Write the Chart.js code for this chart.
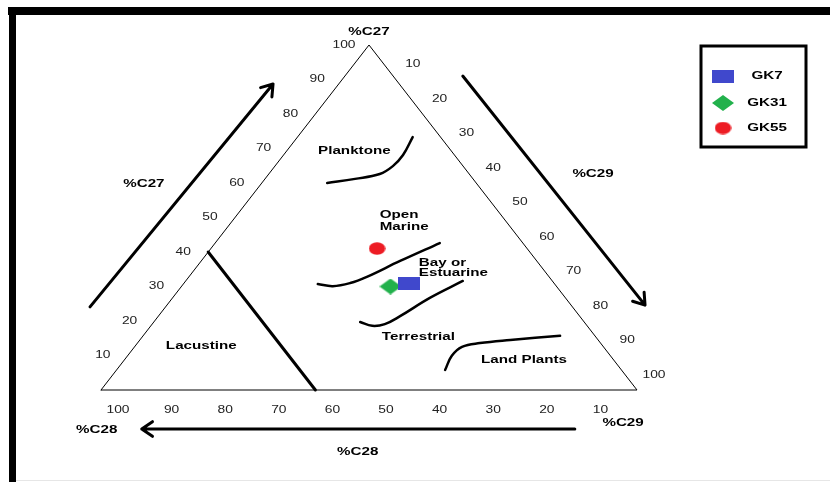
<!DOCTYPE html>
<html>
<head>
<meta charset="utf-8">
<title>Sterane C27–C28–C29 ternary diagram</title>
<script src="https://cdn.jsdelivr.net/npm/chart.js@4.4.0/dist/chart.umd.min.js"></script>
<style>
  html, body { margin: 0; padding: 0; background: #fff; }
  #wrap { width: 830px; height: 482px; }
  canvas { display: block; }
</style>
</head>
<body>
<div id="wrap"><canvas id="chart" width="830" height="482"></canvas></div>
<script>
// ---- Samples (ternary composition, % of C27 / C28 / C29 steranes) ----
const sampleNames = ['GK7', 'GK31', 'GK55'];
const sampleC27 = [31, 30, 41];
const sampleC28 = [27, 31, 28];
const sampleC29 = [42, 39, 31];

// ---- Axis tick values (same for all three sides) ----
const tickValues = [10, 20, 30, 40, 50, 60, 70, 80, 90, 100];

// ---- Environment boundaries, as [C27, C28, C29] ----
const planktoneLine = [[60.0, 27.8, 12.2], [61.2, 22.0, 16.8], [62.6, 16.7, 20.7], [64.9, 13.1, 22.0], [68.1, 9.6, 22.3], [73.3, 5.2, 21.5]];
const openMarineLine = [[30.7, 44.2, 25.1], [30.1, 41.7, 28.2], [31.0, 38.0, 31.0], [32.8, 34.0, 33.2], [37.4, 25.5, 37.1], [42.6, 15.5, 41.9]];
const bayLine = [[19.7, 41.8, 38.5], [18.6, 40.1, 41.3], [19.1, 37.5, 43.4], [21.4, 33.5, 45.1], [26.7, 25.3, 48.0], [31.6, 16.7, 51.7]];
const landPlantsLine = [[5.8, 32.9, 61.3], [9.9, 29.6, 60.5], [12.5, 26.4, 61.1], [13.6, 22.5, 63.9], [14.5, 16.4, 69.1], [15.7, 6.5, 77.8]];
const lacustrineLine = [[40, 60, 0], [0, 60, 40]];
const triangleEdge = [[0, 100, 0], [0, 0, 100], [100, 0, 0], [0, 100, 0]];

// Ternary -> cartesian (x: along the base, C28 corner at 0; y: C27 height)
function toXY(t) {
  const s = t[0] + t[1] + t[2];
  const a = t[0] / s, c = t[2] / s;
  return { x: 100 * (c + a / 2), y: 100 * a };
}

// Stretched marker shapes
function makeMarker(kind, w, h, color) {
  const c = document.createElement('canvas');
  c.width = w; c.height = h;
  const g = c.getContext('2d');
  g.fillStyle = color;
  g.beginPath();
  if (kind === 'rect') {
    g.rect(0, 0, w, h);
  } else if (kind === 'diamond') {
    g.moveTo(w / 2, 0); g.lineTo(w, h / 2); g.lineTo(w / 2, h); g.lineTo(0, h / 2); g.closePath();
  } else {
    g.ellipse(w / 2, h / 2, w / 2 - 0.3, h / 2 - 0.3, 0, 0, Math.PI * 2);
  }
  g.fill();
  return c;
}
const markers = [
  makeMarker('rect', 22, 13, '#4048cc'),
  makeMarker('diamond', 22, 16, '#22b14c'),
  makeMarker('ellipse', 17, 13, '#ed1c24')
];

const sampleSets = sampleNames.map((name, i) => ({
  label: name,
  data: [toXY([sampleC27[i], sampleC28[i], sampleC29[i]])],
  pointStyle: markers[i],
  pointRadius: 9,
  pointHoverRadius: 9,
  showLine: false,
  clip: false
}));

function lineSet(label, pts, width, tension) {
  return {
    label: label,
    data: pts.map(toXY),
    showLine: true,
    borderColor: '#000',
    borderWidth: width,
    pointRadius: 0,
    pointHoverRadius: 0,
    tension: tension,
    fill: false,
    clip: false,
    borderCapStyle: 'round'
  };
}

const boundarySets = [
  lineSet('planktone', planktoneLine, 2.5, 0.4),
  lineSet('openMarine', openMarineLine, 2.5, 0.4),
  lineSet('bay', bayLine, 2.5, 0.4),
  lineSet('landPlants', landPlantsLine, 2.5, 0.4),
  lineSet('lacustrine', lacustrineLine, 3, 0),
  lineSet('edge', triangleEdge, 1, 0)
];

// Text, arrows and titles placed in cartesian diagram units
const FONT = '"Liberation Sans", Arial, sans-serif';
const SX = 1.38;
const regionLabels = [
  { text: 'Planktone', x: 40.5, y: 69.3, align: 'left' },
  { text: 'Open', x: 52.0, y: 50.7, align: 'left' },
  { text: 'Marine', x: 52.0, y: 47.2, align: 'left' },
  { text: 'Bay or', x: 59.3, y: 36.8, align: 'left' },
  { text: 'Estuarine', x: 59.3, y: 33.9, align: 'left' },
  { text: 'Terrestrial', x: 52.4, y: 15.4, align: 'left' },
  { text: 'Land Plants', x: 70.9, y: 8.7, align: 'left' },
  { text: 'Lacustine', x: 12.1, y: 12.8, align: 'left' }
];
const axisTitles = [
  { text: '%C27', x: 50.0, y: 103.8 },
  { text: '%C27', x: 8.0, y: 59.7 },
  { text: '%C29', x: 91.8, y: 62.6 },
  { text: '%C28', x: -0.8, y: -11.6 },
  { text: '%C28', x: 47.9, y: -18.0 },
  { text: '%C29', x: 97.4, y: -9.6 }
];
const arrows = [
  { from: [-2.05, 24.1], to: [32.1, 88.7] },
  { from: [67.5, 91.0], to: [101.5, 24.6] },
  { from: [88.4, -11.3], to: [7.6, -11.3] }
];

function drawText(ctx, text, x, y, font, align, color) {
  ctx.save();
  ctx.translate(x, y);
  ctx.scale(SX, 1);
  ctx.font = font;
  ctx.fillStyle = color || '#000';
  ctx.textAlign = align || 'center';
  ctx.textBaseline = 'middle';
  ctx.fillText(text, 0, 0);
  ctx.restore();
}

const decor = {
  id: 'ternaryDecor',
  beforeDraw(chart) {
    const ctx = chart.ctx;
    ctx.save();
    ctx.fillStyle = '#fff';
    ctx.fillRect(0, 0, chart.width, chart.height);
    // page frame
    ctx.fillStyle = '#000';
    ctx.fillRect(8, 7, chart.width - 8, 8);
    ctx.fillRect(9, 7, 7, chart.height - 7);
    ctx.strokeStyle = '#e6e6e6';
    ctx.lineWidth = 1;
    ctx.beginPath();
    ctx.moveTo(16, chart.height - 1.5);
    ctx.lineTo(chart.width, chart.height - 1.5);
    ctx.stroke();
    ctx.restore();
  },
  afterDatasetsDraw(chart) {
    const ctx = chart.ctx;
    const xs = chart.scales.x, ys = chart.scales.y;
    const px = v => xs.getPixelForValue(v);
    const py = v => ys.getPixelForValue(v);

    // tick labels on the three sides
    const tickFont = '10px ' + FONT;
    tickValues.forEach(v => {
      const l = toXY([v, 100 - v, 0]);
      drawText(ctx, String(v), px(l.x) - 25, py(l.y), tickFont, 'center', '#222');
      const r = toXY([100 - v, 0, v]);
      drawText(ctx, String(v), px(r.x) + 17, py(r.y) - 15, tickFont, 'center', '#222');
      const b = toXY([0, v, 100 - v]);
      drawText(ctx, String(v), px(b.x) + 17, py(b.y) + 20, tickFont, 'center', '#222');
    });

    // region names and axis titles
    const boldFont = 'bold 11px ' + FONT;
    regionLabels.forEach(l => drawText(ctx, l.text, px(l.x), py(l.y), boldFont, l.align));
    axisTitles.forEach(t => drawText(ctx, t.text, px(t.x), py(t.y), boldFont, 'center'));

    // direction arrows
    ctx.save();
    ctx.strokeStyle = '#000';
    ctx.lineWidth = 3;
    ctx.lineCap = 'round';
    ctx.lineJoin = 'round';
    arrows.forEach(a => {
      const x0 = px(a.from[0]), y0 = py(a.from[1]);
      const x1 = px(a.to[0]), y1 = py(a.to[1]);
      const ang = Math.atan2(y1 - y0, x1 - x0);
      const head = 13, spread = 0.6;
      ctx.beginPath();
      ctx.moveTo(x0, y0);
      ctx.lineTo(x1, y1);
      ctx.moveTo(x1 - head * Math.cos(ang - spread), y1 - head * Math.sin(ang - spread));
      ctx.lineTo(x1, y1);
      ctx.lineTo(x1 - head * Math.cos(ang + spread), y1 - head * Math.sin(ang + spread));
      ctx.stroke();
    });
    ctx.restore();

    // legend box
    const lx = 701, ly = 46, lw = 105, lh = 101;
    ctx.save();
    ctx.strokeStyle = '#000';
    ctx.lineWidth = 3;
    ctx.strokeRect(lx, ly, lw, lh);
    const rowY = [76, 103, 128];
    sampleSets.forEach((ds, i) => {
      const m = ds.pointStyle;
      ctx.drawImage(m, 723 - m.width / 2, rowY[i] - m.height / 2);
      drawText(ctx, ds.label, 767, rowY[i], boldFont, 'center');
    });
    ctx.restore();
  }
};

new Chart(document.getElementById('chart'), {
  type: 'scatter',
  data: { datasets: sampleSets.concat(boundarySets) },
  options: {
    responsive: false,
    devicePixelRatio: 1,
    animation: false,
    layout: { padding: { left: 101, right: 193, top: 45, bottom: 92 } },
    scales: {
      x: { type: 'linear', min: 0, max: 100, display: false },
      y: { type: 'linear', min: 0, max: 100, display: false }
    },
    plugins: {
      legend: { display: false },
      tooltip: { enabled: false }
    },
    events: []
  },
  plugins: [decor]
});
</script>
</body>
</html>
